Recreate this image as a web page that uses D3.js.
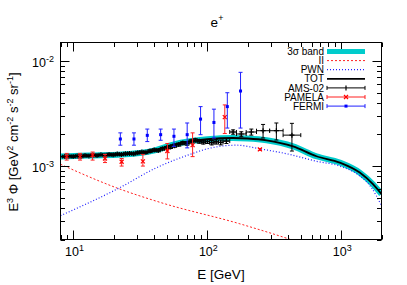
<!DOCTYPE html>
<html>
<head>
<meta charset="utf-8">
<script src="https://cdn.jsdelivr.net/npm/d3@7"></script>
<style>
  body { margin: 0; background: #fff; }
  svg { display: block; font-family: "Liberation Sans", Arial, sans-serif; }
</style>
</head>
<body>
<div id="chart"></div>
<script>
// ---- data (E in GeV, E^3 Phi in GeV^2 cm^-2 s^-1 sr^-1) ----

// secondary positrons (II)
const iiE    = [8, 21.6, 44.2, 175, 399, 700];
const iiFlux = [1.04e-3, 6.12e-4, 4.52e-4, 2.82e-4, 2.04e-4, 1.6e-4];

// pulsar wind nebulae
const pwnE    = [8, 21.6, 41.8, 74, 100, 165, 246, 413, 653, 975, 1375, 1680, 2000];
const pwnFlux = [3.37e-4, 6.12e-4, 9.66e-4, 1.29e-3, 1.46e-3, 1.58e-3, 1.46e-3, 1.29e-3,
                 1.11e-3, 1.0e-3, 8.05e-4, 6.25e-4, 4.2e-4];

// total model (the 3 sigma band follows it)
const totE    = [8, 12.9, 22.9, 31.3, 40.5, 55.6, 74, 100, 155, 200, 277, 437, 653, 975, 1375, 1727, 2000];
const totFlux = [1.23e-3, 1.26e-3, 1.29e-3, 1.33e-3, 1.41e-3, 1.6e-3, 1.72e-3, 1.8e-3, 1.85e-3,
                 1.83e-3, 1.76e-3, 1.54e-3, 1.24e-3, 1.08e-3, 8.67e-4, 6.72e-4, 5.41e-4];

// AMS-02: bin edges, flux and error
const amsEdges = [8.3, 8.9, 9.6, 10.3, 11.0, 11.8, 12.6, 13.5, 14.5, 15.5, 16.6, 17.8, 19.1, 20.5,
                  22.0, 23.6, 25.3, 27.2, 29.2, 31.3, 33.6, 36.0, 38.7, 41.5, 44.5, 47.8, 51.3,
                  55.0, 59.0, 63.4, 68.0, 73.0, 78.3, 84.0, 90.0, 96.5, 104, 112, 121, 131, 147,
                  165, 195, 233, 292, 368, 499];
const amsFlux = [1.23e-3, 1.24e-3, 1.23e-3, 1.25e-3, 1.24e-3, 1.26e-3, 1.25e-3, 1.27e-3, 1.26e-3,
                 1.28e-3, 1.27e-3, 1.29e-3, 1.28e-3, 1.30e-3, 1.29e-3, 1.31e-3, 1.32e-3, 1.31e-3,
                 1.34e-3, 1.36e-3, 1.35e-3, 1.39e-3, 1.42e-3, 1.41e-3, 1.46e-3, 1.49e-3, 1.52e-3,
                 1.56e-3, 1.60e-3, 1.66e-3, 1.64e-3, 1.72e-3, 1.76e-3, 1.72e-3, 1.69e-3, 1.71e-3,
                 1.67e-3, 1.70e-3, 1.68e-3, 1.73e-3, 2.11e-3, 2.02e-3, 2.11e-3, 2.17e-3, 2.17e-3,
                 1.97e-3];
const amsErr  = [0.02e-3, 0.02e-3, 0.02e-3, 0.02e-3, 0.02e-3, 0.02e-3, 0.02e-3, 0.02e-3, 0.02e-3,
                 0.02e-3, 0.02e-3, 0.03e-3, 0.03e-3, 0.03e-3, 0.03e-3, 0.03e-3, 0.03e-3, 0.03e-3,
                 0.03e-3, 0.03e-3, 0.03e-3, 0.04e-3, 0.04e-3, 0.04e-3, 0.04e-3, 0.04e-3, 0.05e-3,
                 0.05e-3, 0.05e-3, 0.05e-3, 0.06e-3, 0.06e-3, 0.06e-3, 0.07e-3, 0.07e-3, 0.07e-3,
                 0.08e-3, 0.08e-3, 0.09e-3, 0.09e-3, 0.10e-3, 0.10e-3, 0.14e-3, 0.32e-3, 0.40e-3,
                 0.58e-3];

// PAMELA
const pamE    = [8.9, 11.2, 13.9, 17.2, 22.9, 33.0, 50.3, 77.6, 135, 247];
const pamFlux = [1.23e-3, 1.23e-3, 1.27e-3, 1.18e-3, 1.10e-3, 1.11e-3, 1.39e-3, 1.58e-3, 2.92e-3, 1.44e-3];
const pamHi   = [1.32e-3, 1.32e-3, 1.36e-3, 1.29e-3, 1.18e-3, 1.29e-3, 1.64e-3, 2.07e-3, 3.82e-3, 1.47e-3];
const pamLo   = [1.14e-3, 1.14e-3, 1.14e-3, 1.08e-3, 1.00e-3, 1.00e-3, 1.17e-3, 1.23e-3, 2.04e-3, 1.41e-3];

// FERMI
const fermiE    = [22.4, 28.3, 35.6, 44.8, 56.3, 70.7, 89, 112, 141, 177];
const fermiFlux = [1.81e-3, 1.81e-3, 1.96e-3, 1.99e-3, 1.92e-3, 1.99e-3, 2.80e-3, 2.60e-3, 3.68e-3, 5.18e-3];
const fermiHi   = [2.07e-3, 2.07e-3, 2.25e-3, 2.25e-3, 2.25e-3, 2.57e-3, 3.68e-3, 3.48e-3, 4.99e-3, 7.8e-3];
const fermiLo   = [1.58e-3, 1.58e-3, 1.71e-3, 1.76e-3, 1.54e-3, 1.49e-3, 1.99e-3, 1.85e-3, 2.30e-3, 2.30e-3];

const legendLabels = ["3\u03c3 band", "II", "PWN", "TOT", "AMS-02", "PAMELA", "FERMI"];

// ---- layout ----
const W = 407, H = 285;
const pL = 60.5, pR = 381.5, pT = 42.5, pB = 239.5;

const svg = d3.select("#chart").append("svg")
  .attr("width", W)
  .attr("height", H);

const x = d3.scaleLog().domain([8, 2000]).range([pL, pR]);
const y = d3.scaleLog().domain([2e-4, 1.5e-2]).range([pB, pT]);

svg.append("defs").append("clipPath")
  .attr("id", "plotClip")
  .append("rect")
  .attr("x", pL).attr("y", pT)
  .attr("width", pR - pL).attr("height", pB - pT);

const plot = svg.append("g").attr("clip-path", "url(#plotClip)");

const zip = (a, b) => a.map((v, i) => [v, b[i]]);
const line = d3.line()
  .x(d => x(d[0]))
  .y(d => y(d[1]))
  .curve(d3.curveMonotoneX);

// 3 sigma band
plot.append("path")
  .attr("d", line(zip(totE, totFlux)))
  .attr("fill", "none")
  .attr("stroke", "#00cccc")
  .attr("stroke-width", 6);

// II
plot.append("path")
  .attr("d", line(zip(iiE, iiFlux)))
  .attr("fill", "none")
  .attr("stroke", "#ff2020")
  .attr("stroke-width", 1)
  .attr("stroke-dasharray", "2,2");

// PWN
plot.append("path")
  .attr("d", line(zip(pwnE, pwnFlux)))
  .attr("fill", "none")
  .attr("stroke", "#2020ff")
  .attr("stroke-width", 1.2)
  .attr("stroke-dasharray", "1,2");

// TOT
plot.append("path")
  .attr("d", line(zip(totE, totFlux)))
  .attr("fill", "none")
  .attr("stroke", "#000")
  .attr("stroke-width", 1.8);

// helpers for error bars
function vbar(g, px, y1, y2, color) {
  g.append("line").attr("x1", px).attr("x2", px).attr("y1", y1).attr("y2", y2)
    .attr("stroke", color).attr("stroke-width", 1);
  [y1, y2].forEach(yy => {
    g.append("line").attr("x1", px - 2).attr("x2", px + 2).attr("y1", yy).attr("y2", yy)
      .attr("stroke", color).attr("stroke-width", 1);
  });
}
function hbar(g, x1, x2, py, color) {
  g.append("line").attr("x1", x1).attr("x2", x2).attr("y1", py).attr("y2", py)
    .attr("stroke", color).attr("stroke-width", 1);
  [x1, x2].forEach(xx => {
    g.append("line").attr("x1", xx).attr("x2", xx).attr("y1", py - 2).attr("y2", py + 2)
      .attr("stroke", color).attr("stroke-width", 1);
  });
}

// AMS-02
const amsG = plot.append("g");
amsFlux.forEach((f, i) => {
  const lo = amsEdges[i], hi = amsEdges[i + 1];
  const e = Math.sqrt(lo * hi);
  const px = x(e), py = y(f);
  hbar(amsG, x(lo), x(hi), py, "#000");
  vbar(amsG, px, y(f + amsErr[i]), y(f - amsErr[i]), "#000");
  amsG.append("path")
    .attr("d", `M${px - 2.5},${py}H${px + 2.5}M${px},${py - 2.5}V${py + 2.5}`)
    .attr("stroke", "#000").attr("stroke-width", 1.2);
});

// PAMELA
const pamG = plot.append("g");
pamE.forEach((e, i) => {
  const px = x(e), py = y(pamFlux[i]);
  vbar(pamG, px, y(pamHi[i]), y(pamLo[i]), "#ff2020");
  pamG.append("path")
    .attr("d", `M${px - 2},${py - 2}L${px + 2},${py + 2}M${px - 2},${py + 2}L${px + 2},${py - 2}`)
    .attr("stroke", "#ff0000").attr("stroke-width", 1.2);
});

// FERMI
const fermiG = plot.append("g");
fermiE.forEach((e, i) => {
  const px = x(e), py = y(fermiFlux[i]);
  vbar(fermiG, px, y(fermiHi[i]), y(fermiLo[i]), "#2020ff");
  fermiG.append("rect")
    .attr("x", px - 1.5).attr("y", py - 1.5)
    .attr("width", 3).attr("height", 3)
    .attr("fill", "#0000ff");
});

// ---- axes: frame, mirrored ticks ----
const isPow10 = v => Math.abs(Math.log10(v) - Math.round(Math.log10(v))) < 1e-6;
const axisG = svg.append("g").attr("stroke", "#000").attr("stroke-width", 1);

x.ticks().forEach(t => {
  const len = isPow10(t) ? 9 : 4.5;
  const px = Math.round(x(t)) + 0.5;
  axisG.append("line").attr("x1", px).attr("x2", px).attr("y1", pB).attr("y2", pB - len);
  axisG.append("line").attr("x1", px).attr("x2", px).attr("y1", pT).attr("y2", pT + len);
});
y.ticks().forEach(t => {
  const len = isPow10(t) ? 9 : 4.5;
  const py = Math.round(y(t)) + 0.5;
  axisG.append("line").attr("x1", pL).attr("x2", pL + len).attr("y1", py).attr("y2", py);
  axisG.append("line").attr("x1", pR).attr("x2", pR - len).attr("y1", py).attr("y2", py);
});

svg.append("rect")
  .attr("x", pL).attr("y", pT)
  .attr("width", pR - pL).attr("height", pB - pT)
  .attr("fill", "none").attr("stroke", "#000").attr("stroke-width", 1);

// tick labels
x.ticks().filter(isPow10).forEach(t => {
  const txt = svg.append("text")
    .attr("x", x(t) + 1).attr("y", 256)
    .attr("text-anchor", "middle")
    .attr("font-size", 12.5);
  txt.append("tspan").text("10");
  txt.append("tspan").attr("dy", -5).attr("font-size", 9).text(Math.round(Math.log10(t)));
});
y.ticks().filter(isPow10).forEach(t => {
  const txt = svg.append("text")
    .attr("x", 54).attr("y", y(t) + 6)
    .attr("text-anchor", "end")
    .attr("font-size", 12.5);
  txt.append("tspan").text("10");
  txt.append("tspan").attr("dy", -5).attr("font-size", 9).text(Math.round(Math.log10(t)));
});

// axis titles
svg.append("text")
  .attr("x", 221).attr("y", 279)
  .attr("text-anchor", "middle")
  .attr("font-size", 13.5)
  .text("E [GeV]");

const yLab = svg.append("text")
  .attr("transform", "translate(18,142) rotate(-90)")
  .attr("text-anchor", "middle")
  .attr("font-size", 13);
const yParts = [["E", 0], ["3", 1], [" \u03a6 [GeV", 0], ["2", 1], [" cm", 0], ["-2", 1],
                [" s", 0], ["-2", 1], [" sr", 0], ["-1", 1], ["]", 0]];
yParts.forEach(([s, sup]) => {
  const ts = yLab.append("tspan").text(s);
  if (sup) ts.attr("dy", -5).attr("font-size", 9);
  else if (s !== "E") ts.attr("dy", 5);
});

// title
const title = svg.append("text")
  .attr("x", 217).attr("y", 27)
  .attr("text-anchor", "middle")
  .attr("font-size", 13.5);
title.append("tspan").text("e");
title.append("tspan").attr("dy", -6).attr("font-size", 9).text("+");

// ---- legend ----
const legX1 = 327, legX2 = 365, legTextX = 324;
const legG = svg.append("g");
legendLabels.forEach((lab, i) => {
  const ly = 51.5 + i * 9.1;
  legG.append("text")
    .attr("x", legTextX).attr("y", ly + 3.6)
    .attr("text-anchor", "end")
    .attr("font-size", 10)
    .text(lab);
  if (i === 0) {
    legG.append("line").attr("x1", legX1).attr("x2", legX2).attr("y1", ly).attr("y2", ly)
      .attr("stroke", "#00cccc").attr("stroke-width", 5);
  } else if (i === 1) {
    legG.append("line").attr("x1", legX1).attr("x2", legX2).attr("y1", ly).attr("y2", ly)
      .attr("stroke", "#ff2020").attr("stroke-dasharray", "2,2");
  } else if (i === 2) {
    legG.append("line").attr("x1", legX1).attr("x2", legX2).attr("y1", ly).attr("y2", ly)
      .attr("stroke", "#2020ff").attr("stroke-width", 1.2).attr("stroke-dasharray", "1,2");
  } else if (i === 3) {
    legG.append("line").attr("x1", legX1).attr("x2", legX2).attr("y1", ly).attr("y2", ly)
      .attr("stroke", "#000").attr("stroke-width", 1.8);
  } else {
    const color = i === 4 ? "#000" : (i === 5 ? "#ff2020" : "#2020ff");
    hbar(legG, legX1, legX2, ly, color);
    const mx = (legX1 + legX2) / 2;
    if (i === 4) {
      legG.append("path").attr("d", `M${mx},${ly - 2.5}V${ly + 2.5}`)
        .attr("stroke", "#000").attr("stroke-width", 1.2);
    } else if (i === 5) {
      legG.append("path")
        .attr("d", `M${mx - 2},${ly - 2}L${mx + 2},${ly + 2}M${mx - 2},${ly + 2}L${mx + 2},${ly - 2}`)
        .attr("stroke", "#ff0000").attr("stroke-width", 1.2);
    } else {
      legG.append("rect").attr("x", mx - 1.5).attr("y", ly - 1.5)
        .attr("width", 3).attr("height", 3).attr("fill", "#0000ff");
    }
  }
});
</script>
</body>
</html>
